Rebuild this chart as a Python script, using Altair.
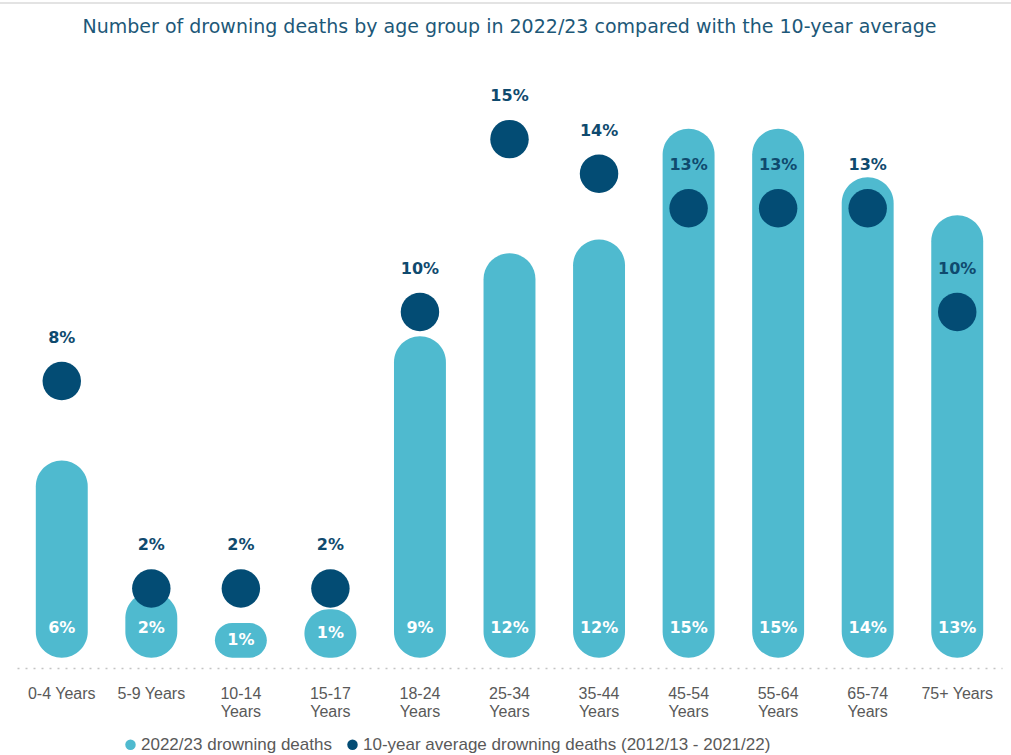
import altair as alt
import pandas as pd

ages = ["0-4 Years", "5-9 Years", "10-14 Years", "15-17 Years", "18-24 Years",
        "25-34 Years", "35-44 Years", "45-54 Years", "55-64 Years", "65-74 Years", "75+ Years"]
deaths_2223 = [5.7, 1.9, 1.0, 1.4, 9.3, 11.7, 12.1, 15.3, 15.3, 13.9, 12.8]
deaths_2223_labels = ["6%", "2%", "1%", "1%", "9%", "12%", "12%", "15%", "15%", "14%", "13%"]
avg_10yr = [8, 2, 2, 2, 10, 15, 14, 13, 13, 13, 10]
avg_10yr_labels = ["8%", "2%", "2%", "2%", "10%", "15%", "14%", "13%", "13%", "13%", "10%"]

S1 = "2022/23 drowning deaths"
S2 = "10-year average drowning deaths (2012/13 - 2021/22)"

BAR = "#4fbacf"
DOT = "#034c74"
LABEL_DARK = "#0f4a6e"

df = pd.DataFrame({
    "age": ages,
    "bar": deaths_2223,
    "bar_label": deaths_2223_labels,
    "avg": avg_10yr,
    "avg_label": avg_10yr_labels,
    "s1": S1,
    "s2": S2,
})

xenc = alt.X("age:N", sort=ages, title=None,
             scale=alt.Scale(paddingInner=0.42, paddingOuter=0.21),
             axis=alt.Axis(labelAngle=0, ticks=False, labelPadding=17,
                           labelFont="Liberation Sans", labelFontSize=16,
                           labelColor="#595959", labelLineHeight=18,
                           labelExpr="indexof(['0-4 Years','5-9 Years','75+ Years'], datum.label) >= 0 ? datum.label : split(datum.label, ' ')",
                           domainDash=[2, 6], domainColor="#c4c4c4", domainWidth=1.5))
yscale = alt.Scale(domain=[-0.3, 17], nice=False, zero=False)
color = alt.Color("series:N", scale=alt.Scale(domain=[S1, S2], range=[BAR, DOT]),
                  legend=alt.Legend(title=None, orient="none", direction="horizontal",
                                    legendX=105, legendY=666, symbolType="circle",
                                    symbolSize=110, symbolStrokeWidth=0,
                                    labelFont="Liberation Sans", labelFontSize=17,
                                    labelLimit=600,
                                    labelColor="#595959", labelOffset=2, columnPadding=12))

base = alt.Chart(df)

bars = base.transform_calculate(series="datum.s1").mark_bar(cornerRadius=26).encode(
    x=xenc,
    y=alt.Y("bar:Q", scale=yscale, axis=None),
    y2=alt.datum(0),
    color=color,
)

bar_text = base.transform_calculate(pos="min(datum.bar / 2, 0.86)").mark_text(
    font="DejaVu Sans", fontWeight="bold", fontSize=16, color="white", baseline="middle"
).encode(x=alt.X("age:N", sort=ages), y=alt.Y("pos:Q", scale=yscale), text="bar_label:N")

dots = base.transform_calculate(series="datum.s2").mark_point(
    shape="circle", filled=True, opacity=1, size=1480
).encode(x=alt.X("age:N", sort=ages), y=alt.Y("avg:Q", scale=yscale), color=color)

dot_text = base.mark_text(
    font="DejaVu Sans", fontWeight="bold", fontSize=16, color=LABEL_DARK,
    baseline="middle", dy=-43
).encode(x=alt.X("age:N", sort=ages), y=alt.Y("avg:Q", scale=yscale), text="avg_label:N")

topline = base.mark_rule(color="#e3e3e3", strokeWidth=1.5).encode(
    x=alt.value(-17), x2=alt.value(994), y=alt.value(-67))

chart = alt.layer(topline, bars, bar_text, dots, dot_text).properties(
    width=985, height=598,
    padding={"left": 17, "top": 70, "right": 9, "bottom": 87},
    autosize="none",
    title=alt.TitleParams("Number of drowning deaths by age group in 2022/23 compared with the 10-year average",
                          font="DejaVu Sans", fontSize=19, fontWeight="normal",
                          color="#1d5878", anchor="middle", frame="group", offset=0, dy=35),
).configure_view(stroke=None)

chart.save("out.html", embed_options={"renderer": "svg", "actions": False})
